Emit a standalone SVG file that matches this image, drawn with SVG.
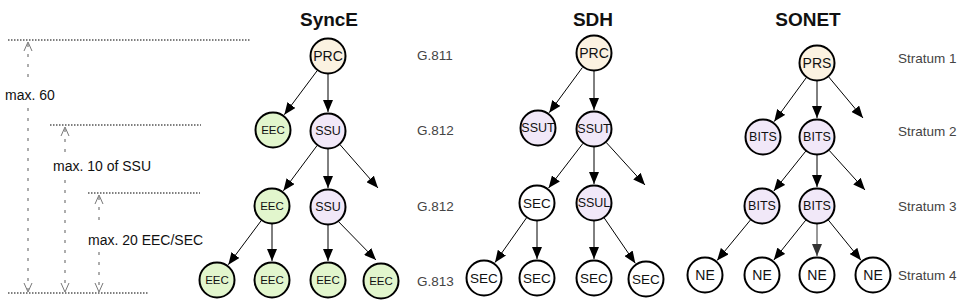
<svg xmlns="http://www.w3.org/2000/svg" width="960" height="306" viewBox="0 0 960 306">
<style>
text{font-family:"Liberation Sans",Arial,sans-serif;fill:#111}
.title{font-size:19px;font-weight:bold;text-anchor:middle}
.lvl{font-size:13.5px;fill:#444}
.dim{font-size:14px}
.n circle{stroke:#000;stroke-width:2;fill:#fff}
.n text{font-size:12.5px;text-anchor:middle;dominant-baseline:central}
.prc circle{fill:#fbf2e1}
.eec circle{fill:#e2f6cd}
.ssu circle{fill:#f1e8f8}
.e line{stroke:#000;stroke-width:1;marker-end:url(#ah)}
.dot{stroke:#000;stroke-width:1.2;stroke-dasharray:1.5,1.5}
.dash{stroke:#777;stroke-width:1.2;stroke-dasharray:3,7;fill:none}
.open{stroke:#777;stroke-width:1;fill:none}
</style>
<defs>
<marker id="ah" markerUnits="userSpaceOnUse" markerWidth="12" markerHeight="10" refX="12" refY="5" orient="auto">
<path d="M0,0 L12,5 L0,10 z" fill="#000"/>
</marker>
<marker id="ah2" markerUnits="userSpaceOnUse" markerWidth="12" markerHeight="10" refX="12" refY="5" orient="auto">
<path d="M0,0 L12,5 L0,10 z" fill="#333"/>
</marker>
</defs>
<rect width="960" height="306" fill="#fff"/>

<g id="dimensions">
<line class="dot" x1="8" y1="40" x2="250" y2="40"/>
<line class="dot" x1="50" y1="125" x2="201" y2="125"/>
<line class="dot" x1="88" y1="193" x2="200" y2="193"/>
<line class="dot" x1="8" y1="293" x2="148" y2="293"/>
<line class="dash" x1="28" y1="44" x2="28" y2="82"/>
<line class="dash" x1="28" y1="108" x2="28" y2="290"/>
<path class="open" d="M24,51 L28,42 L32,51 M24,283 L28,292 L32,283"/>
<line class="dash" x1="65" y1="129" x2="65" y2="152"/>
<line class="dash" x1="65" y1="180" x2="65" y2="290"/>
<path class="open" d="M61,136 L65,127 L69,136 M61,283 L65,292 L69,283"/>
<line class="dash" x1="99" y1="197" x2="99" y2="226"/>
<line class="dash" x1="99" y1="252" x2="99" y2="290"/>
<path class="open" d="M95,204 L99,195 L103,204 M95,283 L99,292 L103,283"/>
<text class="dim" x="5" y="100">max. 60</text>
<text class="dim" x="53" y="171">max. 10 of SSU</text>
<text class="dim" x="88" y="245">max. 20 EEC/SEC</text>
</g>

<g id="titles">
<text class="title" x="329" y="26">SyncE</text>
<text class="title" x="593" y="26">SDH</text>
<text class="title" x="808" y="26">SONET</text>
</g>

<g id="levels">
<text class="lvl" x="417" y="60">G.811</text>
<text class="lvl" x="417" y="135">G.812</text>
<text class="lvl" x="417" y="211">G.812</text>
<text class="lvl" x="417" y="286">G.813</text>
<text class="lvl" x="898" y="63">Stratum 1</text>
<text class="lvl" x="898" y="136">Stratum 2</text>
<text class="lvl" x="898" y="211">Stratum 3</text>
<text class="lvl" x="898" y="280">Stratum 4</text>
</g>

<g id="connectors" class="e">
<line x1="317.3" y1="70.5" x2="284.3" y2="114.7"/>
<line x1="328" y1="74" x2="328" y2="112"/>
<line x1="317.2" y1="145.4" x2="283.4" y2="190.8"/>
<line x1="328" y1="149" x2="328" y2="188"/>
<line x1="339.9" y1="144.5" x2="378" y2="188"/>
<line x1="261.3" y1="220.5" x2="228.3" y2="264.7"/>
<line x1="272" y1="224" x2="272" y2="261"/>
<line x1="328" y1="225" x2="328" y2="261"/>
<line x1="338.5" y1="221.6" x2="376" y2="260"/>

<line x1="582.4" y1="67.5" x2="549.2" y2="112.7"/>
<line x1="594" y1="71" x2="594" y2="110"/>
<line x1="583" y1="143.3" x2="548.6" y2="188"/>
<line x1="594" y1="147" x2="594" y2="184"/>
<line x1="606.1" y1="142.3" x2="645" y2="185"/>
<line x1="526.6" y1="217.7" x2="495" y2="262.5"/>
<line x1="537" y1="221" x2="537" y2="259"/>
<line x1="594" y1="221" x2="594" y2="259"/>
<line x1="604.2" y1="217.9" x2="635.3" y2="263.3"/>

<line x1="806.4" y1="77.5" x2="774.2" y2="121.6"/>
<line x1="817" y1="81" x2="817" y2="118"/>
<line x1="828.6" y1="76.8" x2="863" y2="118"/>
<line x1="805.8" y1="151.1" x2="773.8" y2="191.1"/>
<line x1="817" y1="155" x2="817" y2="187"/>
<line x1="829.1" y1="150.3" x2="865" y2="190"/>
<line x1="750.5" y1="219.9" x2="717.1" y2="260.4"/>
<line x1="805.8" y1="220.1" x2="773.8" y2="260.1"/>
<line x1="817" y1="224" x2="817" y2="256" style="stroke:#333;marker-end:url(#ah2)"/>
<line x1="828.3" y1="220" x2="861" y2="260.3"/>
</g>

<g id="synce-prc" class="n prc"><circle cx="328" cy="56" r="17.5"/><text x="328" y="56" style="font-size:14px">PRC</text></g>
<g id="synce-eec1" class="n eec"><circle cx="273" cy="130" r="17.5"/><text x="273" y="130" style="font-size:11.5px">EEC</text></g>
<g id="synce-ssu1" class="n ssu"><circle cx="328" cy="131" r="17.5"/><text x="328" y="131">SSU</text></g>
<g id="synce-eec2" class="n eec"><circle cx="272" cy="206" r="17.5"/><text x="272" y="206" style="font-size:11.5px">EEC</text></g>
<g id="synce-ssu2" class="n ssu"><circle cx="328" cy="207" r="17.5"/><text x="328" y="207">SSU</text></g>
<g id="synce-eec3" class="n eec"><circle cx="217" cy="280" r="17.5"/><text x="217" y="280" style="font-size:11.5px">EEC</text></g>
<g id="synce-eec4" class="n eec"><circle cx="272" cy="280" r="17.5"/><text x="272" y="280" style="font-size:11.5px">EEC</text></g>
<g id="synce-eec5" class="n eec"><circle cx="328" cy="280" r="17.5"/><text x="328" y="280" style="font-size:11.5px">EEC</text></g>
<g id="synce-eec6" class="n eec"><circle cx="381" cy="281" r="17.5"/><text x="381" y="281" style="font-size:11.5px">EEC</text></g>

<g id="sdh-prc" class="n prc"><circle cx="594" cy="53" r="17.5"/><text x="594" y="53" style="font-size:14px">PRC</text></g>
<g id="sdh-ssut1" class="n ssu"><circle cx="538" cy="128" r="17.5"/><text x="538" y="128">SSUT</text></g>
<g id="sdh-ssut2" class="n ssu"><circle cx="594" cy="129" r="17.5"/><text x="594" y="129">SSUT</text></g>
<g id="sdh-sec1" class="n"><circle cx="537" cy="203" r="17.5"/><text x="537" y="203" style="font-size:13.5px">SEC</text></g>
<g id="sdh-ssul" class="n ssu"><circle cx="594" cy="203" r="17.5"/><text x="594" y="203">SSUL</text></g>
<g id="sdh-sec2" class="n"><circle cx="484" cy="278" r="17.5"/><text x="484" y="278" style="font-size:13.5px">SEC</text></g>
<g id="sdh-sec3" class="n"><circle cx="537" cy="278" r="17.5"/><text x="537" y="278" style="font-size:13.5px">SEC</text></g>
<g id="sdh-sec4" class="n"><circle cx="594" cy="278" r="17.5"/><text x="594" y="278" style="font-size:13.5px">SEC</text></g>
<g id="sdh-sec5" class="n"><circle cx="646" cy="279" r="17.5"/><text x="646" y="279" style="font-size:13.5px">SEC</text></g>

<g id="sonet-prs" class="n prc"><circle cx="817" cy="63" r="17.5"/><text x="817" y="63" style="font-size:14px">PRS</text></g>
<g id="sonet-bits1" class="n ssu"><circle cx="763" cy="137" r="17.5"/><text x="763" y="137">BITS</text></g>
<g id="sonet-bits2" class="n ssu"><circle cx="817" cy="137" r="17.5"/><text x="817" y="137">BITS</text></g>
<g id="sonet-bits3" class="n ssu"><circle cx="762" cy="206" r="17.5"/><text x="762" y="206">BITS</text></g>
<g id="sonet-bits4" class="n ssu"><circle cx="817" cy="206" r="17.5"/><text x="817" y="206">BITS</text></g>
<g id="sonet-ne1" class="n"><circle cx="705" cy="275" r="17.5"/><text x="705" y="275" style="font-size:14px">NE</text></g>
<g id="sonet-ne2" class="n"><circle cx="762" cy="275" r="17.5"/><text x="762" y="275" style="font-size:14px">NE</text></g>
<g id="sonet-ne3" class="n"><circle cx="817" cy="275" r="17.5"/><text x="817" y="275" style="font-size:14px">NE</text></g>
<g id="sonet-ne4" class="n"><circle cx="873" cy="275" r="17.5"/><text x="873" y="275" style="font-size:14px">NE</text></g>
</svg>
